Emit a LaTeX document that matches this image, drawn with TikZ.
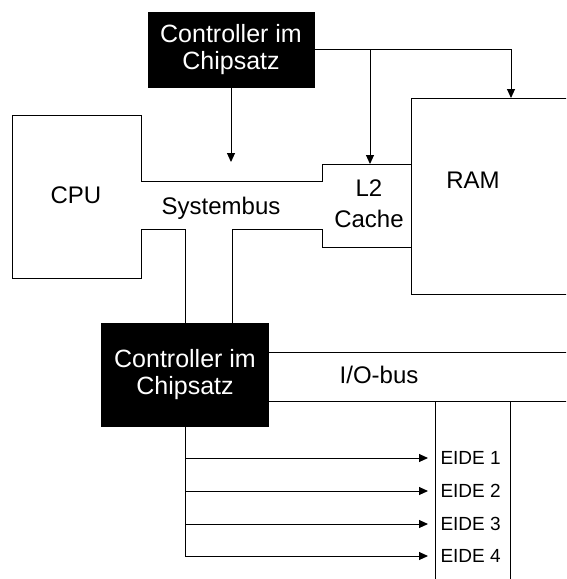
\documentclass[tikz,border=0pt]{standalone}
\usepackage{fontspec}
\setmainfont{Liberation Sans}
\usetikzlibrary{arrows.meta}

\begin{document}
\begin{tikzpicture}[x=1pt,y=-1pt,line width=1pt,>={Triangle[length=9pt,width=8pt]},chip/.style={draw,fill=black,text=white,minimum width=166pt,minimum height=75pt,align=center,inner sep=0pt,font=\fontsize{25}{27}\selectfont},lbl/.style={align=center,inner sep=0pt,font=\fontsize{24}{31}\selectfont},eide/.style={anchor=west,inner xsep=12pt,inner ysep=0pt,font=\fontsize{19}{22}\selectfont}]
  \clip (0,0) rectangle (566,579);
  \node[chip] (ctrltop) at (231,49.5) {Controller im\\Chipsatz};
  \node[chip,minimum width=167pt,minimum height=103pt] (ctrlio) at (185,374.5) {Controller im\\Chipsatz};
  % CPU, system bus and L2 cache outline
  \draw (185,323) -- (185,229) -- (141,229) -- (141,278) -- (12,278) -- (12,115) -- (141,115) -- (141,181) -- (322,181) -- (322,164) -- (411,164);
  \draw (232,323) -- (232,229) -- (322,229) -- (322,247) -- (411,247);
  \node[draw,anchor=north west,minimum width=200pt,minimum height=196pt,inner sep=0pt] (ram) at (411,98) {};
  \node[lbl] (cpu) at (76,195) {CPU};
  \node[lbl] (sysbus) at (221,208) {Systembus};
  \node[lbl] (cache) at (369,204) {L2\\Cache};
  \node[lbl] (ramlbl) at (473,180) {RAM};
  \coordinate (bustop) at (231,162);
  \coordinate (cachetop) at (370,164);
  \coordinate (ramtop) at (511,98);
  \draw[->] (ctrltop.south) -- (bustop);
  \draw[->] (ctrltop.east) -| (ramtop);
  \draw[->] (ctrltop.east -| cachetop) -- (cachetop);
  % I/O bus
  \draw (ctrlio.east |- 0,352) -- (570,352);
  \draw (ctrlio.east |- 0,401) -- (570,401);
  \node[lbl] (iobus) at (379,375) {I/O-bus};
  \draw (435,401) -- (435,585);
  \draw (510,401) -- (510,585);
  \foreach \i/\y in {1/458,2/491,3/524,4/556} {
    \node[eide] (eide\i) at (428,\y) {EIDE \i};
    \draw[->] (ctrlio.south) |- (eide\i.west);
  }
\end{tikzpicture}
\end{document}
